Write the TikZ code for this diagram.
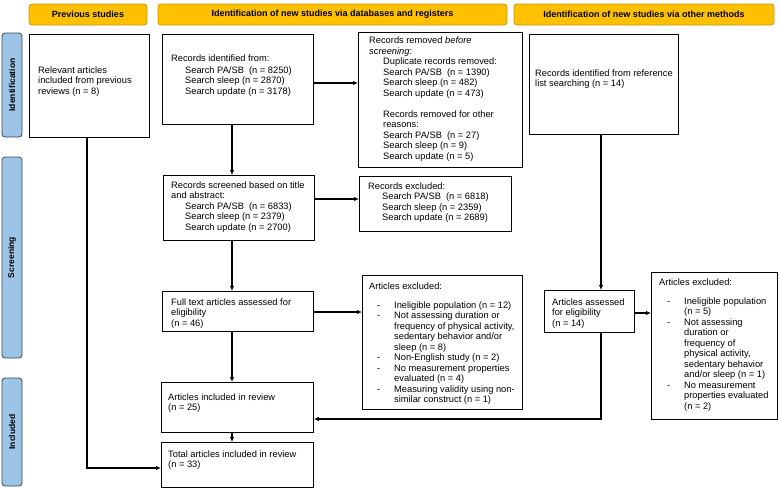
\documentclass[tikz,border=0pt]{standalone}
\usepackage{fontspec}
\setmainfont{Liberation Sans}
\usetikzlibrary{arrows.meta}
\definecolor{hdrfill}{HTML}{FFC000}
\definecolor{hdrborder}{HTML}{C99A06}
\definecolor{sidefill}{HTML}{9DC3E6}
\definecolor{sideborder}{HTML}{3A4656}
\newcommand{\bl}[1]{\makebox[25pt][l]{\hspace*{8pt}-}#1}
\newcommand{\bc}[1]{\hspace*{25pt}#1}
\newcommand{\ind}{\hspace*{14pt}}
\begin{document}
\begin{tikzpicture}[x=1pt,y=-1pt,
  box/.style={draw=black, line width=0.8pt, inner sep=0pt, anchor=north west},
  txt/.style={inner sep=0pt, anchor=north west, align=left, font=\fontsize{9.3}{10.5}\selectfont},
  hdr/.style={draw=hdrborder, fill=hdrfill, rounded corners=3pt, line width=0.8pt, inner sep=0pt,
    font=\bfseries\fontsize{9}{10}\selectfont, minimum height=21},
  side/.style={draw=sideborder, fill=sidefill, rounded corners=3pt, line width=0.8pt, inner sep=0pt,
    font=\bfseries\fontsize{8.5}{10}\selectfont, minimum height=20, rotate=90},
  arr/.style={-{Latex[length=5pt,width=4.5pt]}, line width=1.1pt},
  ln/.style={line width=1.1pt}]
\useasboundingbox (0,0) rectangle (780,488);

% headers
\node[hdr, minimum width=118] (hprev) at (88,14.5) {Previous studies};
\node[hdr, minimum width=349] (hdb) at (332.5,14.5) {Identification of new studies via databases and registers};
\node[hdr, minimum width=260] (hoth) at (644,14.5) {Identification of new studies via other methods};

% side labels
\node[side, minimum width=104] (sid) at (12,85) {Identification};
\node[side, minimum width=201] (sscr) at (12,257.5) {Screening};
\node[side, minimum width=108] (sinc) at (12,432) {Included};

% boxes
\node[box, minimum width=120, minimum height=103] (prev) at (29,34) {};
\node[txt] (prevt) at (38,66.5) {Relevant articles\\included from previous\\reviews (n = 8)};

\node[box, minimum width=151, minimum height=90] (recid) at (162,34) {};
\node[txt] (recidt) at (171,55) {Records identified from:\\[1pt]\ind Search PA/SB\ \ (n = 8250)\\\ind Search sleep (n = 2870)\\\ind Search update (n = 3178)};

\node[box, minimum width=164, minimum height=135] (remv) at (358,32) {};
\node[txt] (remvt) at (369,37) {Records removed \textit{before}\\\textit{screening}:\\\ind Duplicate records removed:\\\ind Search PA/SB\ \ (n = 1390)\\\ind Search sleep (n = 482)\\\ind Search update (n = 473)\\[10.5pt]\ind Records removed for other\\\ind reasons:\\\ind Search PA/SB\ \ (n = 27)\\\ind Search sleep (n = 9)\\\ind Search update (n = 5)};

\node[box, minimum width=149, minimum height=100] (refl) at (529,34) {};
\node[txt] (reflt) at (535,69.5) {Records identified from reference\\list searching (n = 14)};

\node[box, minimum width=151, minimum height=65] (scr) at (163,175) {};
\node[txt] (scrt) at (171,181.5) {Records screened based on title\\and abstract:\\\ind Search PA/SB\ \ (n = 6833)\\\ind Search sleep (n = 2379)\\\ind Search update (n = 2700)};

\node[box, minimum width=152, minimum height=55] (exc1) at (359,176) {};
\node[txt] (exc1t) at (368,182.5) {Records excluded:\\\ind Search PA/SB\ \ (n = 6818)\\\ind Search sleep (n = 2359)\\\ind Search update (n = 2689)};

\node[box, minimum width=151, minimum height=40] (full) at (162,291) {};
\node[txt] (fullt) at (171,298.5) {Full text articles assessed for\\eligibility\\(n = 46)};

\node[box, minimum width=160, minimum height=134] (aexc) at (362,275) {};
\node[txt] (aexct) at (369,282.5) {Articles excluded:\\[8.5pt]\bl{Ineligible population (n = 12)}\\\bl{Not assessing duration or}\\\bc{frequency of physical activity,}\\\bc{sedentary behavior and/or}\\\bc{sleep (n = 8)}\\\bl{Non-English study (n = 2)}\\\bl{No measurement properties}\\\bc{evaluated (n = 4)}\\\bl{Measuring validity using non-}\\\bc{similar construct (n = 1)}};

\node[box, minimum width=152, minimum height=50] (incl) at (161,382) {};
\node[txt] (inclt) at (168,393.5) {Articles included in review\\(n = 25)};

\node[box, minimum width=152, minimum height=45] (tot) at (161,442) {};
\node[txt] (tott) at (168,450.5) {Total articles included in review\\(n = 33)};

\node[box, minimum width=90, minimum height=42] (asse) at (544,290) {};
\node[txt] (asset) at (552,298.5) {Articles assessed\\for eligibility\\(n = 14)};

\node[box, minimum width=126, minimum height=147] (exc2) at (651,272) {};
\node[txt] (exc2t) at (659,278.5) {Articles excluded:\\[8.5pt]\bl{Ineligible population}\\\bc{(n = 5)}\\\bl{Not assessing}\\\bc{duration or}\\\bc{frequency of}\\\bc{physical activity,}\\\bc{sedentary behavior}\\\bc{and/or sleep (n = 1)}\\\bl{No measurement}\\\bc{properties evaluated}\\\bc{(n = 2)}};

% helper coordinates
\coordinate (xa) at (232,0);
\coordinate (xp) at (87,0);
\coordinate (xr) at (601,0);
\coordinate (y83) at (0,83);
\coordinate (y199) at (0,199);
\coordinate (y312) at (0,312);
\coordinate (y313) at (0,313);
\coordinate (y419) at (0,419);
\coordinate (y468) at (0,468);

% connectors
\draw[arr] (recid.south -| xa) -- (scr.north -| xa);
\draw[arr] (scr.south -| xa) -- (full.north -| xa);
\draw[arr] (full.south -| xa) -- (incl.north -| xa);
\draw[arr] (incl.south -| xa) -- (tot.north -| xa);
\draw[arr] (recid.east |- y83) -- (remv.west |- y83);
\draw[arr] (scr.east |- y199) -- (exc1.west |- y199);
\draw[arr] (full.east |- y312) -- (aexc.west |- y312);
\draw[arr] (prev.south -| xp) |- (tot.west |- y468);
\draw[arr] (refl.south -| xr) -- (asse.north -| xr);
\draw[arr] (asse.east |- y313) -- (exc2.west |- y313);
\draw[arr] (asse.south -| xr) |- (incl.east |- y419);
\end{tikzpicture}
\end{document}
